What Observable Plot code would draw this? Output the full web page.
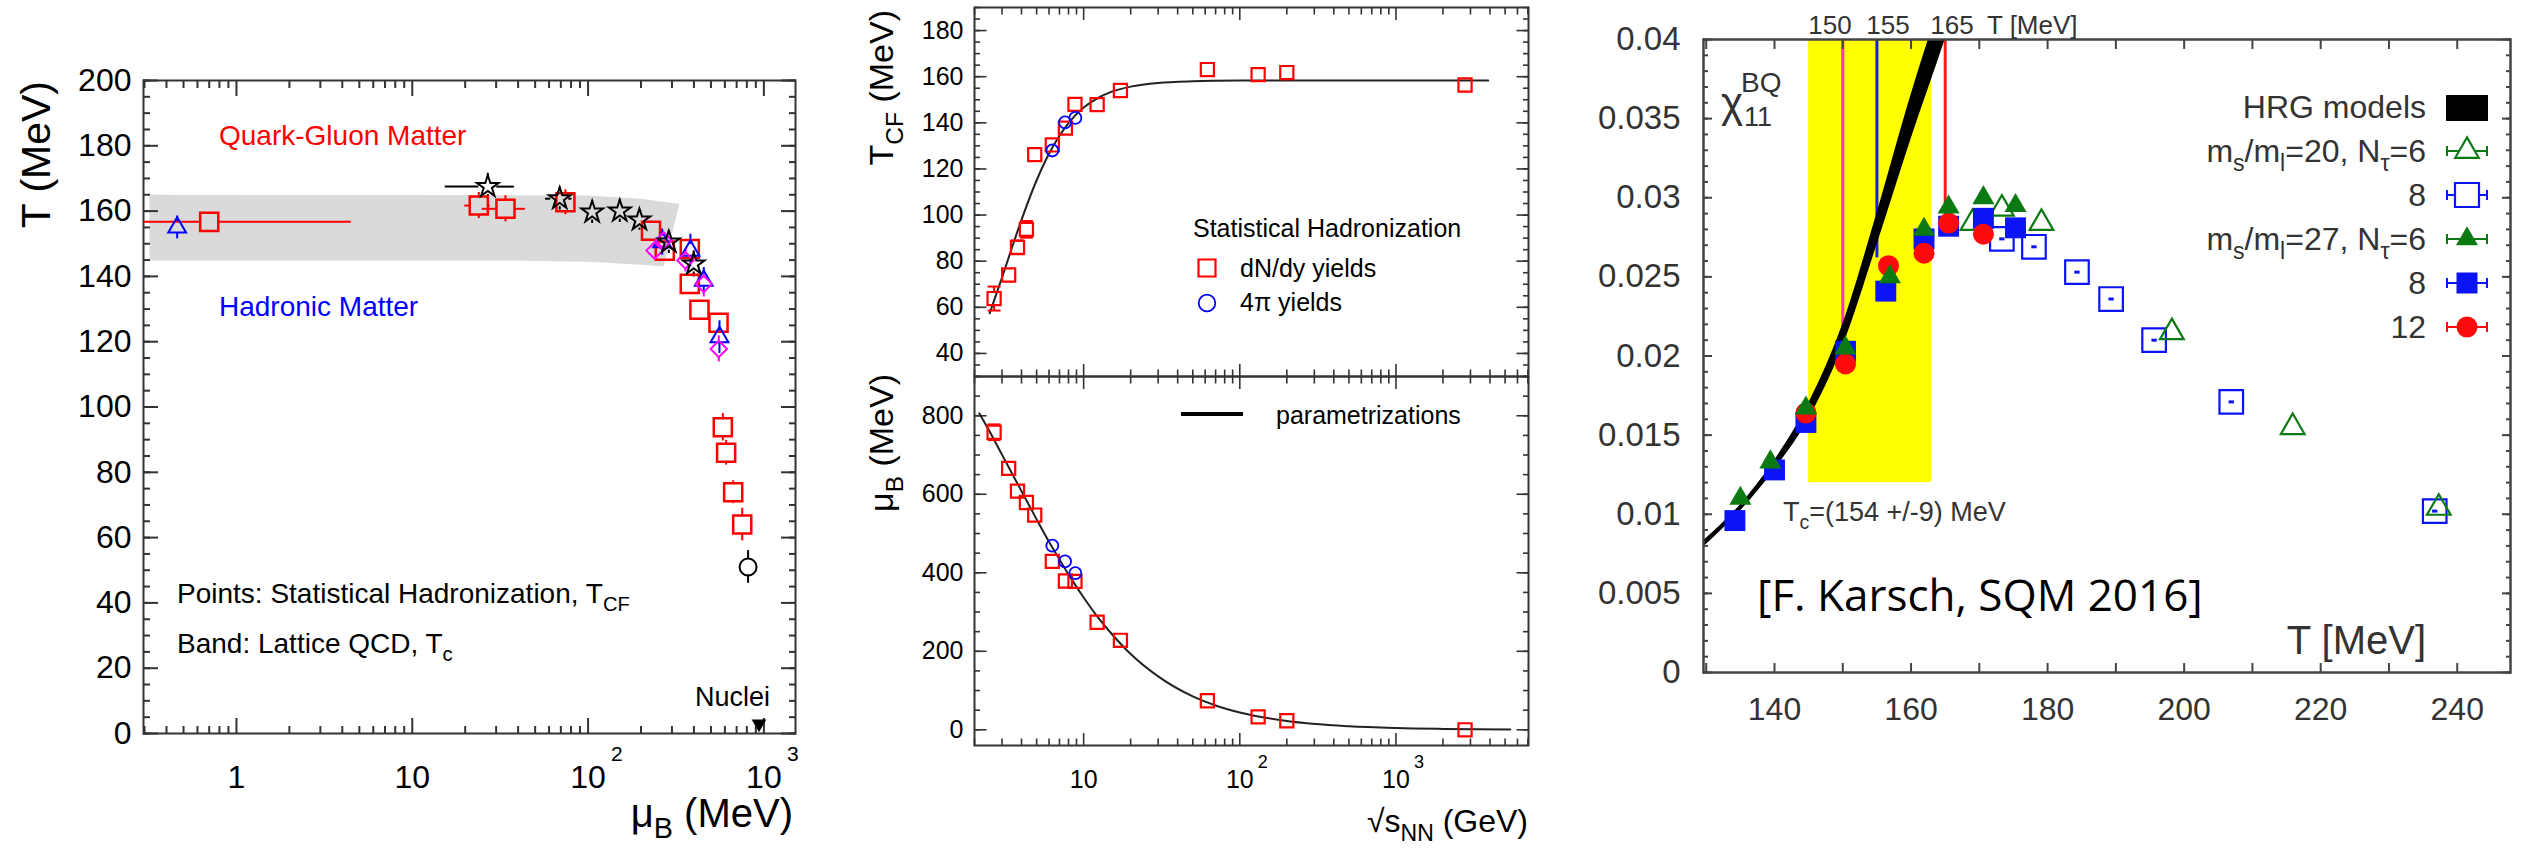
<!DOCTYPE html>
<html>
<head>
<meta charset="utf-8">
<script src="https://cdn.jsdelivr.net/npm/d3@7"></script>
<script src="https://cdn.jsdelivr.net/npm/@observablehq/plot@0.6"></script>
<style>
html, body { margin: 0; padding: 0; background: #fff; }
#page { position: relative; width: 2526px; height: 851px; overflow: hidden; background: #fff; }
#page > svg { position: absolute; left: 0; top: 0; }
</style>
</head>
<body>
<div id="page"></div>
<script>
// ================= DATA =================
// ---- Panel 1: T vs mu_B ----
const p1BandMu = [0.32, 100, 200, 331, 269, 200, 100, 30, 0.32];
const p1BandT  = [165.0, 164.8, 163.8, 162.2, 143.0, 143.6, 144.5, 144.9, 144.9];

const p1SqMu   = [0.70, 23.9, 33.9, 74.3, 228, 273, 379, 379, 430, 552, 584, 610, 669, 753];
const p1SqT    = [156.7, 161.7, 160.7, 162.7, 154.0, 147.9, 148.4, 137.7, 129.8, 125.8, 93.8, 86.0, 73.9, 64.0];
const p1SqTErr = [0, 4.0, 4.0, 3.8, 0, 0, 0, 0, 0, 0, 4.2, 3.8, 3.5, 5.0];
const p1SqMuLo = [0.30, 19.9, 25.0, null, null, null, null, null, null, null, null, null, null, null];
const p1SqMuHi = [4.5, 27.8, 44.0, null, null, null, null, null, null, null, null, null, null, null];

const p1StarMu   = [26.9, 69, 105.5, 151.5, 196, 288, 399];
const p1StarT    = [167.5, 163.8, 159.7, 160.0, 157.3, 150.5, 143.8];
const p1StarTErr = [4.0, 3.5, 3.5, 3.5, 3.2, 3.5, 4.0];
const p1StarMuLo = [15.4, 57.3, null, null, null, null, null];
const p1StarMuHi = [38.1, 81.0, null, null, null, null, null];

const p1TriMu   = [0.46, 264, 382, 455, 559];
const p1TriT    = [155.0, 150.5, 147.9, 138.7, 121.4];
const p1TriTErr = [3.5, 4.0, 5.0, 4.0, 5.0];

const p1DiaMu   = [239, 269, 358, 455, 554];
const p1DiaT    = [147.9, 151.0, 144.9, 137.7, 117.8];
const p1DiaTErr = [0, 0, 3.5, 4.0, 4.0];

const p1CircMu = [813];
const p1CircT = [51];
const p1CircTErr = [5];

const p1NucMu = [938];
const p1NucT = [3];

const p1YTicks = [0, 20, 40, 60, 80, 100, 120, 140, 160, 180, 200];
const p1XTicks = [1, 10, 100, 1000];
const p1XTickBase = ["1", "10", "10", "10"];
const p1XTickExp = ["", "", "2", "3"];
const p1XMinor = [0.3,0.4,0.5,0.6,0.7,0.8,0.9,2,3,4,5,6,7,8,9,20,30,40,50,60,70,80,90,200,300,400,500,600,700,800,900];

// ---- Panel 2: T_CF and mu_B vs sqrt(s_NN) ----
const p2SqE    = [2.67, 3.31, 3.77, 4.30, 4.86, 6.3, 7.64, 8.8, 12.2, 17.2, 62, 131, 200, 2770];
const p2SqT    = [63.8, 74.0, 86.0, 93.8, 126.2, 130.4, 137.7, 148.0, 147.9, 154.0, 163.1, 160.9, 161.8, 156.4];
const p2SqTErr = [5.2, 0, 3.0, 3.6, 0, 0, 0, 0, 0, 0, 0, 0, 0, 0];
const p2SqMu   = [758, 666, 608, 579, 547, 429, 379, 378, 274, 228, 74, 33, 23, 0];
const p2SqMuErr= [20, 0, 0, 0, 0, 0, 0, 0, 0, 0, 0, 0, 0, 0];
const p2CircE  = [6.3, 7.6, 8.85];
const p2CircT  = [128.0, 140.2, 142.1];
const p2CircMu = [469, 429, 399];

const p2TCurveE = [2.5, 3, 3.5, 4, 5, 6, 7, 8, 10, 12, 15, 20, 30, 50, 100, 300, 1000, 3900];
const p2TCurveT = [57.4, 72.9, 86.5, 97.9, 115.1, 126.6, 134.4, 139.9, 146.6, 150.3, 153.4, 155.7, 157.3, 158.0, 158.3, 158.4, 158.4, 158.4];
const p2MuCurveE = [2.15, 2.5, 3, 3.5, 4, 5, 6, 7, 8, 10, 12, 15, 20, 30, 50, 70, 100, 200, 500, 1000, 2000, 5400];
const p2MuCurveMu = [806, 760, 701, 651, 608, 536, 479, 434, 396, 337, 293, 246, 193, 136, 85, 62, 44, 22.3, 9.0, 4.5, 2.3, 0.8];

const p2TYTicks = [40, 60, 80, 100, 120, 140, 160, 180];
const p2MuYTicks = [0, 200, 400, 600, 800];
const p2XTicks = [10, 100, 1000];
const p2XTickBase = ["10", "10", "10"];
const p2XTickExp = ["", "2", "3"];
const p2XMinor = [2,3,4,5,6,7,8,9,20,30,40,50,60,70,80,90,200,300,400,500,600,700,800,900,2000,3000,4000,5000,6000,7000];

// ---- Panel 3: chi_11^BQ vs T ----
const p3TcLo = 145, p3TcHi = 163, p3TcBottom = 0.012;
const p3LineT = [150, 155, 165];
const p3LineLow = [0.0205, 0.0262, 0.0287];
const p3HrgT    = [129, 135, 140, 145, 150, 155, 160, 165, 168];
const p3HrgLow  = [0.0077, 0.0102, 0.0128, 0.0160, 0.0206, 0.0270, 0.0337, 0.0400, 0.0440];
const p3HrgHigh = [0.0081, 0.0106, 0.0134, 0.0170, 0.0220, 0.0290, 0.0365, 0.0432, 0.0470];

const p3G27T = [135.0, 139.4, 144.6, 150.4, 156.9, 161.9, 165.5, 170.6, 175.3];
const p3G27V = [0.0110, 0.0133, 0.0167, 0.0205, 0.0250, 0.0280, 0.0294, 0.0300, 0.0295];
const p3B27T = [134.2, 140.0, 144.6, 150.4, 156.3, 161.9, 165.5, 170.6, 175.3];
const p3B27V = [0.0096, 0.0128, 0.0158, 0.0203, 0.0241, 0.0274, 0.0282, 0.0287, 0.0281];
const p3R27T = [144.6, 150.4, 156.7, 161.9, 165.5, 170.6];
const p3R27V = [0.0164, 0.0195, 0.0257, 0.0265, 0.0284, 0.0277];
const p3G20T = [169.0, 173.3, 179.1, 198.2, 215.9, 237.3];
const p3G20V = [0.0284, 0.0293, 0.0284, 0.0215, 0.0155, 0.0104];
const p3B20T = [173.3, 178.0, 184.3, 189.3, 195.6, 206.9, 236.7];
const p3B20V = [0.0274, 0.0269, 0.0253, 0.0236, 0.0210, 0.0171, 0.0102];

const p3YTicks = [0, 0.005, 0.01, 0.015, 0.02, 0.025, 0.03, 0.035, 0.04];
const p3XTicks = [140, 160, 180, 200, 220, 240];
const p3XTicksAll = [130, 140, 150, 160, 170, 180, 190, 200, 210, 220, 230, 240];

// ================= STYLE =================
const W = 2526, H = 851;
const FONT = "'Liberation Sans', Arial, Helvetica, sans-serif";
const RED = "#ff0000", BLUE = "#0000ff", MAG = "#ff00ff";
const GREEN = "#0b7a12", P3BLUE = "#0a14f5", P3RED = "#ff0a0a";
const LINE_COLORS = ["#ff2ee0", "#1a1aff", "#ff1a1a"];

const capSymbol = { draw(ctx, size) { const r = Math.sqrt(size) / 2; ctx.moveTo(-r, 0); ctx.lineTo(r, 0); } };

function frameOpts(f) {
  return {
    width: W, height: H,
    marginLeft: f.l, marginRight: W - f.r, marginTop: f.t, marginBottom: H - f.b,
    style: { background: "transparent", fontFamily: FONT, color: "#000" }
  };
}
const blank = () => "";
function xTicks(values, size, sw, stroke) {
  return [
    Plot.axisX(values, { anchor: "bottom", tickSize: -size, tickFormat: blank, label: null, strokeWidth: sw, stroke }),
    Plot.axisX(values, { anchor: "top", tickSize: -size, tickFormat: blank, label: null, strokeWidth: sw, stroke })
  ];
}
function yTicks(values, size, sw, stroke) {
  return [
    Plot.axisY(values, { anchor: "left", tickSize: -size, tickFormat: blank, label: null, strokeWidth: sw, stroke }),
    Plot.axisY(values, { anchor: "right", tickSize: -size, tickFormat: blank, label: null, strokeWidth: sw, stroke })
  ];
}
// vertical error bars (not drawn inside the marker)
function vErr(xs, ys, es, inset, stroke, sw) {
  const idx = d3.range(xs.length).filter(i => es[i] > 0);
  return [
    Plot.ruleX(idx, { x: i => xs[i], y1: i => ys[i] + es[i], y2: i => ys[i], insetBottom: inset, stroke, strokeWidth: sw }),
    Plot.ruleX(idx, { x: i => xs[i], y1: i => ys[i], y2: i => ys[i] - es[i], insetTop: inset, stroke, strokeWidth: sw })
  ];
}
function hErr(xs, ys, lo, hi, inset, stroke, sw) {
  const idx = d3.range(xs.length).filter(i => lo[i] != null);
  return [
    Plot.ruleY(idx, { y: i => ys[i], x1: i => lo[i], x2: i => xs[i], insetRight: inset, stroke, strokeWidth: sw, clip: true }),
    Plot.ruleY(idx, { y: i => ys[i], x1: i => xs[i], x2: i => hi[i], insetLeft: inset, stroke, strokeWidth: sw, clip: true })
  ];
}
const ix = arr => d3.range(arr.length);

const page = document.getElementById("page");

// ================= PANEL 1 =================
const p1F = { l: 143, r: 795, t: 80, b: 733 };
const plot1 = Plot.plot({
  ...frameOpts(p1F),
  x: { type: "log", domain: [0.296, 1513] },
  y: { domain: [0, 200] },
  marks: [
    Plot.line(ix(p1BandMu), { x: i => p1BandMu[i], y: i => p1BandT[i], fill: "#dadada", stroke: "none", curve: "linear-closed" }),
    ...xTicks(p1XMinor, 7, 2, "#333"),
    ...xTicks(p1XTicks, 15, 2, "#333"),
    ...yTicks(d3.range(0, 201, 5), 7, 2, "#333"),
    ...yTicks(p1YTicks, 15, 2, "#333"),
    Plot.frame({ stroke: "#333", strokeWidth: 2 }),
    Plot.axisY(p1YTicks, { anchor: "left", tickSize: 0, tickPadding: 12, fontSize: 32, label: null }),
    Plot.text(p1XTicks, { x: d => d, text: (d, i) => p1XTickBase[i], frameAnchor: "bottom", lineAnchor: "bottom", dy: 54, fontSize: 32 }),
    Plot.text(p1XTicks, { x: d => d, text: (d, i) => p1XTickExp[i], frameAnchor: "bottom", lineAnchor: "bottom", textAnchor: "start", dx: 23, dy: 27, fontSize: 21 }),
    // error bars
    ...hErr(p1SqMu, p1SqT, p1SqMuLo, p1SqMuHi, 9, RED, 2),
    ...vErr(p1SqMu, p1SqT, p1SqTErr, 9, RED, 2),
    ...hErr(p1StarMu, p1StarT, p1StarMuLo, p1StarMuHi, 9, "#000", 2),
    ...vErr(p1StarMu, p1StarT, p1StarTErr, 8, "#000", 2),
    ...vErr(p1TriMu, p1TriT, p1TriTErr, 6, BLUE, 2),
    ...vErr(p1DiaMu, p1DiaT, p1DiaTErr, 8, MAG, 2),
    ...vErr(p1CircMu, p1CircT, p1CircTErr, 8, "#000", 2),
    // markers
    Plot.dot(ix(p1SqMu), { x: i => p1SqMu[i], y: i => p1SqT[i], symbol: "square", r: 10.2, fill: "none", stroke: RED, strokeWidth: 2.5 }),
    Plot.dot(ix(p1TriMu), { x: i => p1TriMu[i], y: i => p1TriT[i], symbol: "triangle", r: 6.6, fill: "none", stroke: BLUE, strokeWidth: 2 }),
    Plot.dot(ix(p1DiaMu), { x: i => p1DiaMu[i], y: i => p1DiaT[i], symbol: "diamond2", r: 7.4, fill: "none", stroke: MAG, strokeWidth: 2 }),
    Plot.dot(ix(p1StarMu), { x: i => p1StarMu[i], y: i => p1StarT[i], symbol: "star", r: 6.8, fill: "none", stroke: "#000", strokeWidth: 2 }),
    Plot.dot(ix(p1CircMu), { x: i => p1CircMu[i], y: i => p1CircT[i], symbol: "circle", r: 8.5, fill: "none", stroke: "#000", strokeWidth: 2 }),
    Plot.dot(ix(p1NucMu), { x: i => p1NucMu[i], y: i => p1NucT[i], symbol: "triangle", r: 5.5, rotate: 180, fill: "#000", stroke: "none" })
  ]
});
page.appendChild(plot1);

// ================= PANEL 2 =================
const p2X = { type: "log", domain: [2, 7060] };
const p2Top = { l: 974, r: 1528, t: 7, b: 376 };
const p2Bot = { l: 974, r: 1528, t: 376, b: 745 };

function errCaps(xs, ys, es, stroke) {
  const idx = d3.range(xs.length).filter(i => es[i] > 0);
  return [
    Plot.dot(idx, { x: i => xs[i], y: i => ys[i] + es[i], symbol: capSymbol, r: 7.3, stroke, strokeWidth: 2 }),
    Plot.dot(idx, { x: i => xs[i], y: i => ys[i] - es[i], symbol: capSymbol, r: 7.3, stroke, strokeWidth: 2 })
  ];
}

const plot2a = Plot.plot({
  ...frameOpts(p2Top),
  x: p2X,
  y: { domain: [30, 190] },
  marks: [
    ...xTicks(p2XMinor, 6.5, 1.6, "#333"),
    ...xTicks(p2XTicks, 12, 1.6, "#333"),
    ...yTicks(d3.range(30, 191, 5), 6, 1.6, "#333"),
    ...yTicks(p2TYTicks, 12.5, 1.6, "#333"),
    Plot.frame({ stroke: "#333", strokeWidth: 2 }),
    Plot.axisY(p2TYTicks, { anchor: "left", tickSize: 0, tickPadding: 11, fontSize: 25, label: null }),
    Plot.line(ix(p2TCurveE), { x: i => p2TCurveE[i], y: i => p2TCurveT[i], curve: "monotone-x", stroke: "#222", strokeWidth: 2 }),
    ...vErr(p2SqE, p2SqT, p2SqTErr, 6.5, RED, 2),
    ...errCaps(p2SqE, p2SqT, p2SqTErr, RED),
    Plot.dot(ix(p2SqE), { x: i => p2SqE[i], y: i => p2SqT[i], symbol: "square", r: 7.4, fill: "none", stroke: RED, strokeWidth: 2.2 }),
    Plot.dot(ix(p2CircE), { x: i => p2CircE[i], y: i => p2CircT[i], symbol: "circle", r: 6, fill: "none", stroke: BLUE, strokeWidth: 1.8 })
  ]
});
page.appendChild(plot2a);

const plot2b = Plot.plot({
  ...frameOpts(p2Bot),
  x: p2X,
  y: { domain: [-40, 900] },
  marks: [
    ...xTicks(p2XMinor, 6.5, 1.6, "#333"),
    ...xTicks(p2XTicks, 12, 1.6, "#333"),
    ...yTicks(d3.range(0, 901, 50), 6, 1.6, "#333"),
    ...yTicks(p2MuYTicks, 12.5, 1.6, "#333"),
    Plot.frame({ stroke: "#333", strokeWidth: 2 }),
    Plot.axisY(p2MuYTicks, { anchor: "left", tickSize: 0, tickPadding: 11, fontSize: 25, label: null }),
    Plot.text(p2XTicks, { x: d => d, text: (d, i) => p2XTickBase[i], frameAnchor: "bottom", lineAnchor: "bottom", dy: 42, fontSize: 25 }),
    Plot.text(p2XTicks, { x: d => d, text: (d, i) => p2XTickExp[i], frameAnchor: "bottom", lineAnchor: "bottom", textAnchor: "start", dx: 18, dy: 22, fontSize: 18 }),
    Plot.line(ix(p2MuCurveE), { x: i => p2MuCurveE[i], y: i => p2MuCurveMu[i], curve: "monotone-x", stroke: "#222", strokeWidth: 2 }),
    ...vErr(p2SqE, p2SqMu, p2SqMuErr, 6.5, RED, 2),
    ...errCaps(p2SqE, p2SqMu, p2SqMuErr, RED),
    Plot.dot(ix(p2SqE), { x: i => p2SqE[i], y: i => p2SqMu[i], symbol: "square", r: 7.4, fill: "none", stroke: RED, strokeWidth: 2.2 }),
    Plot.dot(ix(p2CircE), { x: i => p2CircE[i], y: i => p2CircMu[i], symbol: "circle", r: 6, fill: "none", stroke: BLUE, strokeWidth: 1.8 })
  ]
});
page.appendChild(plot2b);

// ================= PANEL 3 =================
const p3F = { l: 1703, r: 2510, t: 39, b: 672 };
const plot3 = Plot.plot({
  ...frameOpts(p3F),
  x: { domain: [129.6, 247.8] },
  y: { domain: [0, 0.04] },
  marks: [
    Plot.rect([0], { x1: () => p3TcLo, x2: () => p3TcHi, y1: () => p3TcBottom, y2: () => 0.04, fill: "#ffff00" }),
    ...p3LineT.map((t, i) => Plot.ruleX([t], { x: d => d, y1: () => p3LineLow[i], y2: () => 0.04, stroke: LINE_COLORS[i], strokeWidth: 3 })),
    Plot.area(ix(p3HrgT), { x1: i => p3HrgT[i], y1: i => p3HrgLow[i], y2: i => p3HrgHigh[i], fill: "#000", curve: "monotone-x", clip: true }),
    ...xTicks(p3XTicksAll, 9, 2, "#444"),
    ...yTicks(d3.range(0, 0.0405, 0.001), 5, 2, "#444"),
    ...yTicks(p3YTicks, 9, 2, "#444"),
    Plot.frame({ stroke: "#444", strokeWidth: 2.5 }),
    Plot.axisY(p3YTicks, { anchor: "left", tickSize: 0, tickPadding: 23, fontSize: 33, label: null, tickFormat: d => String(d), fill: "#333" }),
    Plot.text(p3XTicks, { x: d => d, text: d => String(d), frameAnchor: "bottom", lineAnchor: "bottom", dy: 47, fontSize: 32, fill: "#333" }),
    // data
    Plot.dot(ix(p3B20T), { x: i => p3B20T[i], y: i => p3B20V[i], symbol: "square", r: 13.3, fill: "none", stroke: P3BLUE, strokeWidth: 2.2 }),
    Plot.dot(ix(p3B20T), { x: i => p3B20T[i], y: i => p3B20V[i], symbol: capSymbol, r: 3, stroke: P3BLUE, strokeWidth: 3 }),
    Plot.dot(ix(p3G20T), { x: i => p3G20T[i], y: i => p3G20V[i], symbol: "triangle", r: 8.8, fill: "none", stroke: GREEN, strokeWidth: 2.2 }),
    Plot.dot(ix(p3B27T), { x: i => p3B27T[i], y: i => p3B27V[i], symbol: "square", r: 11.8, fill: P3BLUE, stroke: "none" }),
    Plot.dot(ix(p3R27T), { x: i => p3R27T[i], y: i => p3R27V[i], symbol: "circle", r: 10.5, fill: P3RED, stroke: "none" }),
    Plot.dot(ix(p3G27T), { x: i => p3G27T[i], y: i => p3G27V[i], symbol: "triangle", r: 8.2, fill: GREEN, stroke: "none" })
  ]
});
page.appendChild(plot3);

// ================= TEXT OVERLAY =================
const ov = d3.create("svg").attr("width", W).attr("height", H).style("font-family", FONT);
function txt(x, y, parts, o = {}) {
  const size = o.size || 28;
  const t = ov.append("text").attr("x", x).attr("y", y).attr("font-size", size)
    .attr("fill", o.fill || "#000").attr("text-anchor", o.anchor || "start");
  if (o.family) t.attr("font-family", o.family);
  if (o.rotate) t.attr("transform", `rotate(${o.rotate},${x},${y})`);
  if (typeof parts === "string") parts = [[parts]];
  let shift = 0;
  for (const [s, mode] of parts) {
    const target = mode === "sub" ? 0.28 * size : mode === "sup" ? -0.4 * size : 0;
    const ts = t.append("tspan").text(s).attr("dy", target - shift);
    if (mode) ts.attr("font-size", size * 0.72);
    shift = target;
  }
  return t;
}
function sym(x, y, type, size, fill, stroke, sw) {
  ov.append("path").attr("transform", `translate(${x},${y})`).attr("d", d3.symbol(type, size)())
    .attr("fill", fill).attr("stroke", stroke).attr("stroke-width", sw);
}
function seg(x1, y1, x2, y2, stroke, sw) {
  ov.append("line").attr("x1", x1).attr("y1", y1).attr("x2", x2).attr("y2", y2).attr("stroke", stroke).attr("stroke-width", sw);
}

// panel 1 texts
txt(50, 81, "T (MeV)", { size: 41, anchor: "end", rotate: -90 });
txt(793, 827, [["μ"], ["B", "sub"], [" (MeV)"]], { size: 40, anchor: "end" });
txt(219, 145, "Quark-Gluon Matter", { size: 28, fill: RED });
txt(219, 316, "Hadronic Matter", { size: 28, fill: BLUE });
txt(177, 603, [["Points: Statistical Hadronization, T"], ["CF", "sub"]], { size: 28 });
txt(177, 653, [["Band: Lattice QCD, T"], ["c", "sub"]], { size: 28 });
txt(695, 706, "Nuclei", { size: 27 });

// panel 2 texts
txt(893, 10, [["T"], ["CF", "sub"], [" (MeV)"]], { size: 34, anchor: "end", rotate: -90 });
txt(893, 374, [["μ"], ["B", "sub"], [" (MeV)"]], { size: 34, anchor: "end", rotate: -90 });
txt(1528, 832, [["√s"], ["NN", "sub"], [" (GeV)"]], { size: 32, anchor: "end" });
txt(1193, 237, "Statistical Hadronization", { size: 25 });
sym(1207, 268, d3.symbolSquare, 17 * 17, "none", RED, 2.2);
txt(1240, 277, "dN/dy yields", { size: 25 });
sym(1207, 303, d3.symbolCircle, Math.PI * 8.3 * 8.3, "none", BLUE, 1.8);
txt(1240, 311, "4π yields", { size: 25 });
seg(1181, 414, 1243, 414, "#000", 4);
txt(1276, 424, "parametrizations", { size: 25 });

// panel 3 texts
txt(1830, 34, "150", { size: 26, anchor: "middle", fill: "#333" });
txt(1888, 34, "155", { size: 26, anchor: "middle", fill: "#333" });
txt(1952, 34, "165", { size: 26, anchor: "middle", fill: "#333" });
txt(1987, 34, "T [MeV]", { size: 26, fill: "#333" });
txt(1721, 117, "χ", { size: 42, fill: "#333" });
txt(1744, 126, "11", { size: 27, fill: "#333" });
txt(1741, 92, "BQ", { size: 28, fill: "#333" });
txt(1783, 521, [["T"], ["c", "sub"], ["=(154 +/-9) MeV"]], { size: 27, fill: "#333" });
txt(1757, 611, "[F. Karsch, SQM 2016]", { size: 44, family: "'Open Sans', Lato, sans-serif" });
txt(2426, 654, "T [MeV]", { size: 40, anchor: "end", fill: "#333" });

// panel 3 legend
const legX = 2426, symX = 2467;
txt(legX, 118, "HRG models", { size: 32, anchor: "end", fill: "#333" });
ov.append("rect").attr("x", 2446).attr("y", 95).attr("width", 42).attr("height", 26).attr("fill", "#000");
const legRows = [
  { y: 162, parts: [["m"], ["s", "sub"], ["/m"], ["l", "sub"], ["=20, N"], ["τ", "sub"], ["=6"]], type: d3.symbolTriangle, size: 240, fill: "none", stroke: GREEN },
  { y: 206, parts: [["8"]], type: d3.symbolSquare, size: 24 * 24, fill: "none", stroke: P3BLUE },
  { y: 250, parts: [["m"], ["s", "sub"], ["/m"], ["l", "sub"], ["=27, N"], ["τ", "sub"], ["=6"]], type: d3.symbolTriangle, size: 210, fill: GREEN, stroke: "none" },
  { y: 294, parts: [["8"]], type: d3.symbolSquare, size: 21 * 21, fill: P3BLUE, stroke: "none" },
  { y: 338, parts: [["12"]], type: d3.symbolCircle, size: Math.PI * 10.5 * 10.5, fill: P3RED, stroke: "none" }
];
for (const r of legRows) {
  txt(legX, r.y, r.parts, { size: 32, anchor: "end", fill: "#333" });
  const c = r.stroke === "none" ? r.fill : r.stroke;
  const cy = r.y - 11;
  seg(2447, cy, 2487, cy, c, 2);
  seg(2447, cy - 5, 2447, cy + 5, c, 2);
  seg(2487, cy - 5, 2487, cy + 5, c, 2);
  sym(symX, cy, r.type, r.size, r.fill === "none" ? "#fff" : r.fill, r.stroke, 2.2);
}
page.appendChild(ov.node());
</script>
</body>
</html>
